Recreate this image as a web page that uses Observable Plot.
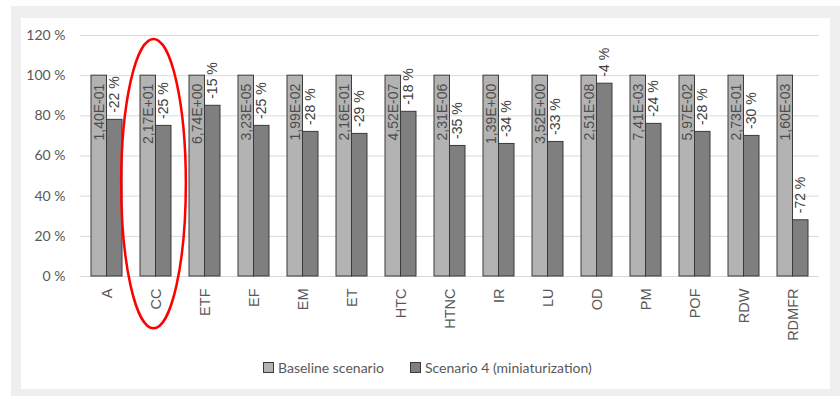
<!DOCTYPE html>
<html>
<head>
<meta charset="utf-8">
<script src="https://cdn.jsdelivr.net/npm/d3@7"></script>
<script src="https://cdn.jsdelivr.net/npm/@observablehq/plot@0.6"></script>
<style>
  body { margin: 0; background: #fff; }
  #wrap { position: relative; width: 840px; height: 396px; overflow: hidden; }
  #frame { position: absolute; left: 11px; top: 6px; width: 829px; height: 390px; background: #efefef; }
  #panel { position: absolute; left: 21px; top: 18px; width: 809px; height: 371px; background: #fff; }
  #chart { position: absolute; left: 0; top: 0; }
  #legend { position: absolute; left: 263px; top: 359px; display: flex; align-items: center;
            font: 14px Lato, sans-serif; color: #595959; white-space: nowrap; }
  .item { display: flex; align-items: center; margin-right: 26px; }
  .sw { width: 9px; height: 9px; border: 1px solid #3a3a3a; margin-right: 4px; }
</style>
</head>
<body>
<div id="wrap">
  <div id="frame"></div>
  <div id="panel"></div>
  <div id="chart"></div>
  <div id="legend"></div>
</div>
<script>
// Impact categories
const categories = ["A", "CC", "ETF", "EF", "EM", "ET", "HTC", "HTNC", "IR", "LU", "OD", "PM", "POF", "RDW", "RDMFR"];
// Absolute baseline impact, printed inside the baseline bars
const baselineLabels = ["1,40E-01", "2,17E+01", "6,74E+00", "3,23E-05", "1,99E-02", "2,16E-01", "4,52E-07",
  "2,31E-06", "1,39E+00", "3,52E+00", "2,51E-08", "7,41E-03", "5,97E-02", "2,73E-01", "1,60E-03"];
// Baseline is the 100 % reference for every category
const baselineShare = [100, 100, 100, 100, 100, 100, 100, 100, 100, 100, 100, 100, 100, 100, 100];
// Relative change of scenario 4 versus baseline (%)
const scenarioChange = [-22, -25, -15, -25, -28, -29, -18, -35, -34, -33, -4, -24, -28, -30, -72];
// Y axis ticks
const yTicks = [0, 20, 40, 60, 80, 100, 120];
// Series names
const seriesNames = ["Baseline scenario", "Scenario 4 (miniaturization)"];
const seriesColors = ["#b3b3b3", "#7f7f7f"];
// Highlighted category (ringed in red), extent in y units
const highlight = { category: "CC", top: 118, bottom: -26 };

const rows = categories.map((c, i) => ({
  cat: c,
  base: baselineShare[i],
  baseLabel: baselineLabels[i],
  scen: baselineShare[i] + scenarioChange[i],
  scenLabel: `${scenarioChange[i]} %`
}));

const W = 840, H = 350;
const mL = 80, mR = 21, mT = 35, mB = 74;
const padIn = 0.37, padOut = 0.185;
const bw = d3.scaleBand().domain(categories).range([mL, W - mR])
  .paddingInner(padIn).paddingOuter(padOut).bandwidth();
const half = bw / 2;

// Red ring around the highlighted category, placed through the scales
const ring = (index, scales) => {
  const x = scales.x, y = scales.y;
  const cx = x(highlight.category) + x.bandwidth() / 2;
  const y1 = y(highlight.top), y2 = y(highlight.bottom);
  const el = document.createElementNS("http://www.w3.org/2000/svg", "ellipse");
  el.setAttribute("cx", cx - 2);
  el.setAttribute("cy", (y1 + y2) / 2);
  el.setAttribute("rx", x.step() * 0.66);
  el.setAttribute("ry", (y2 - y1) / 2);
  el.setAttribute("fill", "none");
  el.setAttribute("stroke", "#ff0000");
  el.setAttribute("stroke-width", 2.5);
  return el;
};

const chart = Plot.plot({
  width: W,
  height: H,
  marginLeft: mL,
  marginRight: mR,
  marginTop: mT,
  marginBottom: mB,
  style: { background: "none", fontFamily: "'Liberation Sans', Arial, sans-serif", overflow: "visible" },
  x: { domain: categories, paddingInner: padIn, paddingOuter: padOut, axis: null, label: null },
  y: { domain: [0, 120], axis: null, label: null },
  marks: [
    Plot.gridY(yTicks, { stroke: "#d9d9d9", strokeOpacity: 1, strokeWidth: 1 }),
    Plot.axisY(yTicks, {
      tickSize: 0, tickPadding: 15, tickFormat: d => `${d} %`, label: null,
      fontSize: 14, fontFamily: "Lato, sans-serif", fill: "#595959"
    }),
    Plot.axisX({
      tickSize: 0, tickPadding: 12, tickRotate: -90, label: null,
      fontSize: 14.5, fill: "#595959"
    }),
    Plot.barY(rows, { x: "cat", y: "base", insetRight: half, fill: seriesColors[0], stroke: "#3a3a3a", strokeWidth: 1 }),
    Plot.barY(rows, { x: "cat", y: "scen", insetLeft: half, fill: seriesColors[1], stroke: "#3a3a3a", strokeWidth: 1 }),
    Plot.text(rows, {
      x: "cat", y: "base", text: "baseLabel", rotate: -90, textAnchor: "end",
      dx: -half / 2, dy: 8, fontSize: 14, fill: "#4d4d4d"
    }),
    Plot.text(rows, {
      x: "cat", y: "scen", text: "scenLabel", rotate: -90, textAnchor: "start",
      dx: half / 2, dy: -7, fontSize: 14, fill: "#404040"
    }),
    ring
  ]
});
document.getElementById("chart").appendChild(chart);

const legend = document.getElementById("legend");
seriesNames.forEach((name, i) => {
  const item = document.createElement("div");
  item.className = "item";
  const sw = document.createElement("span");
  sw.className = "sw";
  sw.style.background = seriesColors[i];
  const t = document.createElement("span");
  t.textContent = name;
  item.append(sw, t);
  legend.append(item);
});
</script>
</body>
</html>
